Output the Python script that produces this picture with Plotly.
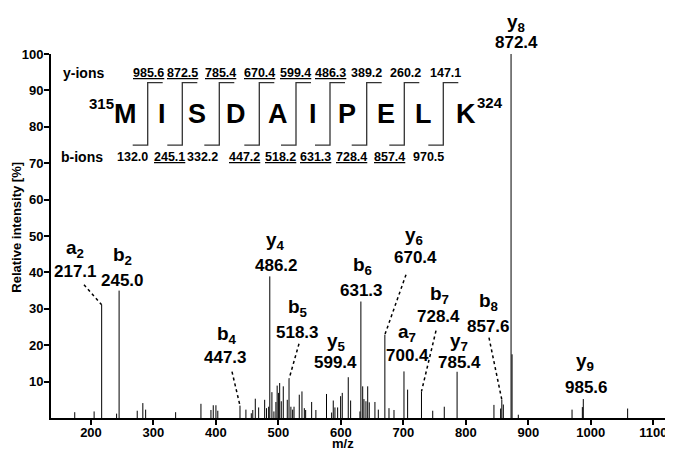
import plotly.graph_objects as go

# ---------------- data ----------------
peak_mz = [174, 205, 217.1, 241, 245.0, 274, 283, 287.5, 335.5, 376, 392, 395.7, 400, 403,
           438.5, 448, 456.6, 459, 463, 468.4, 478, 481, 484.4, 486.2, 489.6, 492.8, 496, 498,
           500.3, 502, 504.6, 507.8, 514.2, 517, 520, 522.8, 525, 533.4, 537.7, 541.5, 543.6,
           553.2, 560, 577, 585.2, 587.8, 590.5, 594.8, 599.6, 602.2, 611.8, 615.6, 630.5,
           632.0, 634.9, 636.9, 640.1, 642.9, 645.4, 654.5, 659.9, 670.4, 677, 685, 701.0,
           706.8, 729, 747, 765.5, 786, 845, 855.7, 857.6, 860, 872.4, 874, 884, 970, 986.5,
           988, 1059]
peak_int = [1.6, 1.8, 31.1, 1.2, 35.0, 2.0, 4.1, 2.3, 1.6, 3.9, 2.2, 3.5, 3.5, 2.0,
            3.4, 2.3, 1.3, 2.2, 5.3, 2.9, 5.0, 2.7, 3.1, 38.9, 7.1, 1.8, 4.4, 8.9,
            6.9, 9.6, 4.6, 8.7, 5.0, 10.7, 3.1, 2.3, 3.1, 6.4, 7.3, 2.7, 2.2,
            4.4, 2.2, 6.6, 1.5, 4.8, 2.9, 2.9, 6.0, 6.9, 11.2, 4.8, 1.8,
            32.0, 8.7, 5.2, 4.6, 8.7, 4.3, 4.4, 2.3, 22.9, 2.7, 2.2, 12.8,
            7.8, 7.3, 2.0, 3.1, 12.7, 3.6, 2.6, 5.0, 3.7, 100, 17.5, 0.9, 2.3, 3.0,
            5.2, 2.6]

# labelled ions: name, subscript, value text
ion_names = ["a", "b", "y", "b", "b", "b", "y", "y", "b", "a", "y", "b", "y", "y"]
ion_subs = ["2", "2", "4", "6", "5", "4", "5", "6", "7", "7", "7", "8", "9", "8"]
ion_values = ["217.1", "245.0", "486.2", "631.3", "518.3", "447.3", "599.4", "670.4",
              "728.4", "700.4", "785.4", "857.6", "985.6", "872.4"]

# dotted leader lines: target peak m/z and intensity
leader_mz = [217.1, 438.5, 517, 670.4, 729, 857.6]
leader_int = [31.1, 3.4, 10.7, 22.9, 7.3, 5.0]

# sequence
sequence = ["M", "I", "S", "D", "A", "I", "P", "E", "L", "K"]
seq_start, seq_end = "315", "324"
y_ions = ["985.6", "872.5", "785.4", "670.4", "599.4", "486.3", "389.2", "260.2", "147.1"]
y_under = [True, True, True, True, True, True, False, False, False]
b_ions = ["132.0", "245.1", "332.2", "447.2", "518.2", "631.3", "728.4", "857.4", "970.5"]
b_under = [False, True, False, True, True, True, True, True, False]

x_ticks = [200, 300, 400, 500, 600, 700, 800, 900, 1000, 1100]
y_ticks = [10, 20, 30, 40, 50, 60, 70, 80, 90, 100]

# ---------------- geometry (page pixels; the page body adds an 8 px offset) ----------------
PAGE_W, PAGE_H, OFF = 673, 451, 8
PL, PR, PT, PB = 51, 672, 54.3, 418.3          # plot box in page pixels
XMIN, XMAX = 136, 1130
W, H = PAGE_W - OFF, PAGE_H - OFF
plot_w = PR - PL
plot_h = PB - PT


def X(px):      # page px -> data x
    return XMIN + (px - PL) / plot_w * (XMAX - XMIN)


def Y(py):      # page px -> data y
    return (PB - py) / plot_h * 100


def XP(px):     # page px -> paper x
    return (px - PL) / plot_w


def YP(py):     # page px -> paper y
    return (PB - py) / plot_h


FONT = "Liberation Sans, Arial, sans-serif"


def f(size):
    return dict(size=size, family=FONT, color="black", weight="bold")


fig = go.Figure()

# spectrum sticks
xs, ys = [], []
for m, h in zip(peak_mz, peak_int):
    xs += [m, m, None]
    ys += [0, h, None]
fig.add_trace(go.Scatter(x=xs, y=ys, mode="lines", line=dict(color="black", width=1),
                         hoverinfo="skip", showlegend=False))

# leader lines
leader_start_px = [(84, 285), (232, 372), (299, 344), (406, 275), (436, 331), (489, 338)]
for (sx, sy), m, h in zip(leader_start_px, leader_mz, leader_int):
    fig.add_trace(go.Scatter(x=[X(sx), m], y=[Y(sy), h], mode="lines",
                             line=dict(color="black", width=1.5, dash="dot"),
                             hoverinfo="skip", showlegend=False))

annotations = []


def add_text(px, py, text, size, **kw):
    annotations.append(dict(x=XP(px), y=YP(py), xref="paper", yref="paper", showarrow=False,
                            xanchor="center", yanchor="middle",
                            text=text, font=f(size), **kw))


name_px = [(75, 249), (122, 256), (275, 241), (362, 266), (298, 308), (227, 335), (336, 342),
           (414, 236), (439, 295), (407, 333), (459, 342), (488, 302), (585, 362), (516, 23)]
value_px = [(75, 272), (122, 281), (276, 266), (361, 291), (297, 333), (226, 358), (335, 363),
            (415, 258), (438, 317), (407, 356), (459, 363), (488, 327), (586, 388), (516, 43)]
for n, s, v, (nx, ny), (vx, vy) in zip(ion_names, ion_subs, ion_values, name_px, value_px):
    add_text(nx, ny, f"{n}<sub>{s}</sub>", 19)
    add_text(vx, vy, v, 17)

# sequence letters
letter_px = [125, 161.7, 196.7, 236, 277.7, 313.3, 346.7, 385.7, 423.3, 465.7]
for ch, lx in zip(sequence, letter_px):
    add_text(lx, 114, ch, 27)
add_text(101.5, 104, seq_start, 15)
add_text(490, 103, seq_end, 15)

# ion rows
add_text(83, 73, "y-ions", 14)
add_text(82, 157, "b-ions", 14)
y_ion_px = [148.3, 182.7, 220, 259.3, 295.7, 330.7, 366.7, 405, 445]
b_ion_px = [132.7, 169, 202.7, 244, 280.7, 315, 351.7, 389.3, 428.3]
for t, u, px in zip(y_ions, y_under, y_ion_px):
    add_text(px, 73, f"<u>{t}</u>" if u else t, 12.5)
for t, u, px in zip(b_ions, b_under, b_ion_px):
    add_text(px, 157, f"<u>{t}</u>" if u else t, 12.5)

# fragmentation brackets
shapes = []
bracket_px = [147.7, 182.3, 219.3, 259.3, 296, 330, 366.7, 404.3, 443.3]
for bx in bracket_px:
    shapes.append(dict(type="path", xref="x", yref="y",
                       path=f"M {X(bx - 15)} {Y(145.5)} L {X(bx)} {Y(145.5)} L {X(bx)} {Y(83)} L {X(bx + 15)} {Y(83)}",
                       line=dict(color="#333333", width=1.3)))

# axis titles
add_text(17, 228, "Relative intensity [%]", 13, textangle=-90)
add_text(343, 444, "m/z", 13)

fig.update_layout(
    width=W, height=H,
    margin=dict(l=PL - OFF, r=PAGE_W - PR, t=PT - OFF, b=PAGE_H - PB),
    paper_bgcolor="white", plot_bgcolor="white",
    annotations=annotations, shapes=shapes,
    font=dict(family=FONT, color="black"),
    xaxis=dict(range=[XMIN, XMAX], tickvals=x_ticks, ticktext=[str(v) for v in x_ticks],
               showgrid=False, zeroline=False, showline=True, linecolor="black", linewidth=2,
               ticks="outside", ticklen=5, tickwidth=2, tickcolor="black",
               ticklabelstandoff=-4,
               tickfont=f(13), automargin=False),
    yaxis=dict(range=[0, 100], tickvals=y_ticks, ticktext=[str(v) for v in y_ticks],
               showgrid=False, zeroline=False, showline=True, linecolor="black", linewidth=2,
               ticks="outside", ticklen=5, tickwidth=2, tickcolor="black",
               ticklabelstandoff=-2,
               tickfont=f(13), automargin=False),
)

fig.write_html("out.html")
